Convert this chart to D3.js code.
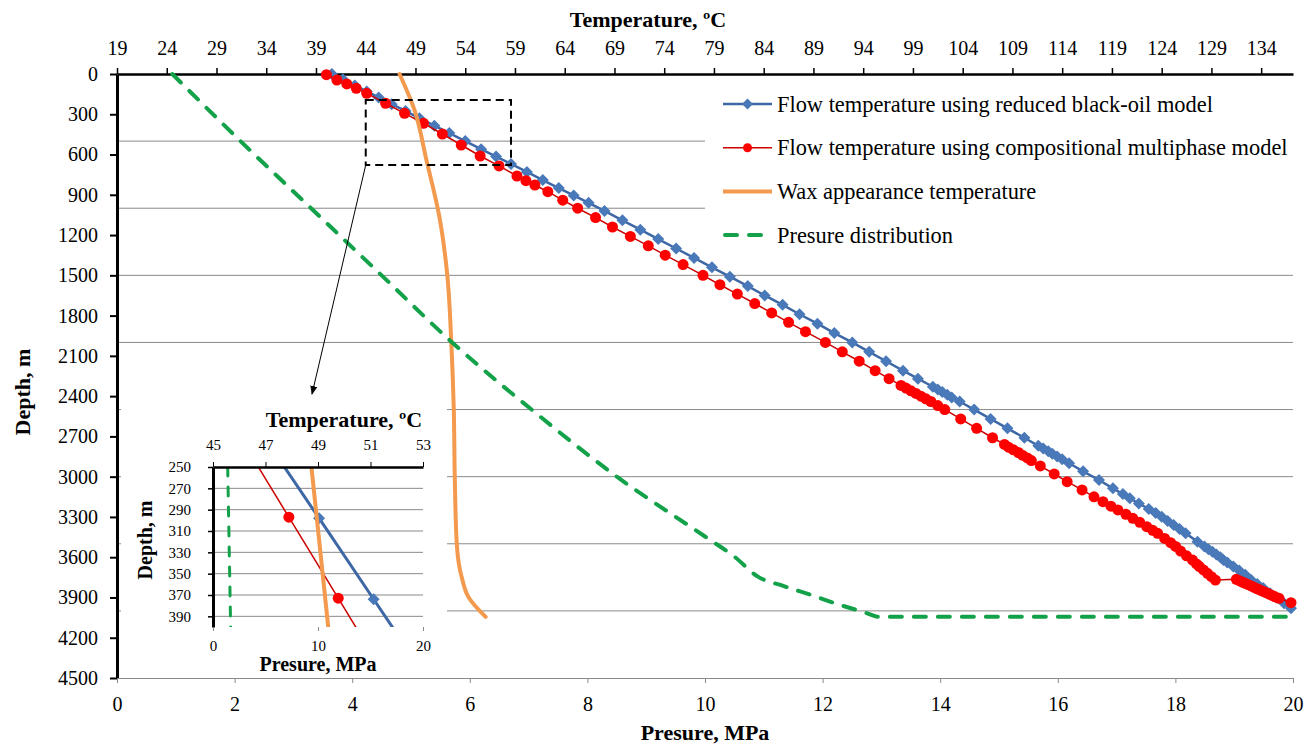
<!DOCTYPE html>
<html lang="en">
<head>
<meta charset="utf-8">
<style>
    body { margin: 0; background: #fff; }
    text { font-family: "Liberation Serif", "Times New Roman", serif; fill: #000; }
    .bold { font-weight: bold; }
</style>
<script src="https://d3js.org/d3.v7.min.js"></script>
</head>
<body>
<script>
// ---- data ----
var depthTicks = [0, 300, 600, 900, 1200, 1500, 1800, 2100, 2400, 2700, 3000, 3300, 3600, 3900, 4200, 4500];
var tempTicks = [19, 24, 29, 34, 39, 44, 49, 54, 59, 64, 69, 74, 79, 84, 89, 94, 99, 104, 109, 114, 119, 124, 129, 134];
var presTicks = [0, 2, 4, 6, 8, 10, 12, 14, 16, 18, 20];
var gridDepths = [500, 1000, 1500, 2000, 2500, 3000, 3500, 4000];

var blackOilDepth = [0,40,85,130,175,225,275,330,385,440,500,560,615,670,730,790,850,905,960,1020,1090,1160,1230,1300,1370,1440,1510,1580,1650,1720,1790,1860,1930,2000,2070,2140,2210,2270,2330,2350,2370,2390,2410,2440,2500,2570,2640,2710,2770,2790,2810,2830,2850,2870,2900,2960,3025,3087,3130,3161,3200,3240,3270,3298,3330,3360,3390,3422,3484,3520,3540,3559,3580,3600,3620,3640,3670,3700,3730,3770,3800,3830,3869,3900,3943,3981];
var blackOilTemp = [40.6,41.7,42.9,44.1,45.3,46.6,48.0,49.4,50.9,52.4,54.0,55.6,57.1,58.6,60.2,61.8,63.4,64.9,66.4,68.0,69.8,71.6,73.4,75.2,77.0,78.8,80.6,82.4,84.1,85.9,87.6,89.4,91.1,92.9,94.6,96.3,98.0,99.5,101.0,101.5,101.95,102.45,102.9,103.7,105.15,106.8,108.5,110.2,111.6,112.1,112.6,113.0,113.5,114.0,114.7,116.1,117.7,119.1,120.1,120.8,121.7,122.7,123.4,124.0,124.6,125.2,125.8,126.4,127.6,128.3,128.7,129.1,129.5,129.9,130.2,130.6,131.2,131.8,132.4,133.0,133.6,134.2,134.9,135.5,136.3,137.0];

var compDepth = [5,45,74,107,144,218,293,367,447,529,611,685,760,795,827,877,940,1000,1070,1140,1210,1280,1350,1420,1500,1570,1640,1710,1780,1850,1920,2000,2070,2140,2210,2270,2320,2340,2360,2380,2400,2420,2440,2470,2500,2570,2640,2710,2760,2780,2800,2820,2840,2860,2880,2920,2980,3037,3099,3150,3186,3220,3248,3280,3310,3340,3373,3400,3422,3460,3492,3520,3554,3590,3621,3650,3670,3695,3720,3745,3770,3765,3775,3785,3795,3805,3814,3825,3835,3845,3855,3864,3875,3885,3895,3906,3939];
var compTemp = [40.05,41.1,42.1,43.05,44.1,46.0,47.9,49.8,51.7,53.6,55.5,57.4,59.2,60.1,61.0,62.3,63.8,65.3,67.1,68.8,70.6,72.4,74.1,75.9,77.9,79.6,81.35,83.1,84.8,86.5,88.2,90.2,91.9,93.6,95.2,96.6,97.8,98.3,98.8,99.3,99.8,100.3,100.8,101.5,102.2,103.8,105.4,107.0,108.2,108.6,109.1,109.6,110.0,110.5,110.9,111.8,113.2,114.5,116.0,117.2,118.1,118.9,119.6,120.4,121.1,121.8,122.5,123.1,123.6,124.3,124.9,125.4,125.9,126.5,127.1,127.5,127.8,128.2,128.6,129.0,129.4,131.5,131.8,132.1,132.4,132.7,133.0,133.3,133.6,133.9,134.2,134.5,134.8,135.1,135.4,135.8,137.0];

var waxDepth = [0, 268, 641, 1063, 1500, 2000, 2500, 3000, 3500, 3750, 3900, 4045];
var waxTemp = [47.4, 48.9, 50.1, 51.4, 52.2, 52.6, 52.85, 52.95, 53.15, 53.65, 54.35, 56.05];

var presDepth = [0, 500, 1000, 1500, 2000, 2500, 3000, 3446, 3596, 3745, 3815, 3881, 3956, 4018, 4043, 4043];
var presValue = [0.94, 2.1, 3.3, 4.5, 5.7, 7.05, 8.5, 10.0, 10.5, 10.9, 11.34, 11.8, 12.3, 12.76, 12.93, 20];

// zoomed window (inset)
var insetDepthTicks = [250, 270, 290, 310, 330, 350, 370, 390];
var insetTempTicks = [45, 47, 49, 51, 53];
var insetPresTicks = [0, 10, 20];
var insetGrid = [270, 290, 310, 330, 350, 370, 390];
var insetBlackOilDepth = [222, 298, 374, 450];
var insetBlackOilTemp = [46.95, 49.04, 51.12, 53.2];
var insetCompDepth = [221, 297, 373, 449];
var insetCompTemp = [46.01, 47.89, 49.77, 51.65];
var insetWaxDepth = [200, 250, 400, 450];
var insetWaxTemp = [48.55, 48.75, 49.39, 49.6];
var insetPresDepth = [250, 400];
var insetPresValue = [1.4, 1.68];

// dashed zoom box on main chart (temperature, depth)
var zoomBoxTemp = [44.0, 58.6];
var zoomBoxDepth = [194, 678];

var legendLabels = ["Flow temperature using reduced black-oil model",
                    "Flow temperature using compositional multiphase model",
                    " Wax appearance temperature",
                    "Presure distribution"];

// ---- layout ----
var width = 1314, height = 747;
var plotLeft = 117, plotRight = 1293, plotTop = 74, plotBottom = 678;

var cBlueLine = "#3d67a5", cBlue = "#4a79b9";
var cRedLine = "#cc0000", cRed = "#ff0000";
var cOrange = "#f39a4e", cGreen = "#13a24a", cGrid = "#8a8a8a";

var svg = d3.select("body").append("svg")
            .attr("width", width)
            .attr("height", height);

var defs = svg.append("defs");
defs.append("marker")
    .attr("id", "arrow")
    .attr("viewBox", "0 0 10 10")
    .attr("refX", 9).attr("refY", 5)
    .attr("markerWidth", 9).attr("markerHeight", 9)
    .attr("orient", "auto")
    .append("path").attr("d", "M0,1L10,5L0,9Z").attr("fill", "#000");

var xP = d3.scaleLinear().domain([0, 20]).range([plotLeft, plotRight]);
var xT = d3.scaleLinear().domain([19, 137.2]).range([plotLeft, plotRight]);
var yD = d3.scaleLinear().domain([0, 4500]).range([plotTop, plotBottom]);

function styleTicks(g, size) {
    g.selectAll(".tick text")
     .style("font-family", "Liberation Serif")
     .style("font-size", size + "px");
}

// gridlines
svg.append("g").selectAll("line")
   .data(gridDepths).enter().append("line")
   .attr("x1", plotLeft).attr("x2", plotRight)
   .attr("y1", function(d) { return yD(d); })
   .attr("y2", function(d) { return yD(d); })
   .attr("stroke", cGrid).attr("stroke-width", 1);

// white backgrounds of legend and inset (they hide the gridlines)
svg.append("rect").attr("x", 705).attr("y", 84).attr("width", 588).attr("height", 172).attr("fill", "#fff");
svg.append("rect").attr("x", 121).attr("y", 398).attr("width", 326).attr("height", 277).attr("fill", "#fff");

// axes
var yAxis = d3.axisLeft(yD).tickValues(depthTicks).tickFormat(d3.format("d"))
              .tickSize(7).tickSizeOuter(0).tickPadding(12);
var gy = svg.append("g").attr("transform", "translate(" + plotLeft + ",0)").call(yAxis);
gy.select(".domain").attr("stroke-width", 3);
gy.selectAll(".tick line").attr("stroke-width", 2);
styleTicks(gy, 20);

var tAxis = d3.axisTop(xT).tickValues(tempTicks).tickFormat(d3.format("d"))
              .tickSize(6).tickSizeOuter(0).tickPadding(13);
var gt = svg.append("g").attr("transform", "translate(0," + plotTop + ")").call(tAxis);
gt.select(".domain").attr("stroke-width", 2.5);
gt.selectAll(".tick line").attr("stroke-width", 1.5);
styleTicks(gt, 20);

var pAxis = d3.axisBottom(xP).tickValues(presTicks).tickSize(5).tickSizeOuter(0).tickPadding(14);
var gp = svg.append("g").attr("transform", "translate(0," + plotBottom + ")").call(pAxis);
gp.select(".domain").attr("stroke", cGrid).attr("stroke-width", 1);
gp.selectAll(".tick line").attr("stroke", cGrid);
styleTicks(gp, 20);

// axis titles
svg.append("text").attr("class", "bold").attr("x", 648).attr("y", 27)
   .attr("text-anchor", "middle").attr("font-size", 22).text("Temperature, \u00baC");
svg.append("text").attr("class", "bold").attr("x", 705).attr("y", 740)
   .attr("text-anchor", "middle").attr("font-size", 22).text("Presure, MPa");
svg.append("text").attr("class", "bold")
   .attr("transform", "translate(30,392) rotate(-90)")
   .attr("text-anchor", "middle").attr("font-size", 22).text("Depth, m");

// series
function drawSeries(g, depth, val, xs, ys, opt) {
    var pts = d3.zip(depth, val);
    var line = d3.line()
                 .x(function(d) { return xs(d[1]); })
                 .y(function(d) { return ys(d[0]); });
    if (opt.curve) line.curve(opt.curve);
    g.append("path").datum(pts)
     .attr("d", line)
     .attr("fill", "none")
     .attr("stroke", opt.stroke)
     .attr("stroke-width", opt.width)
     .attr("stroke-dasharray", opt.dash || null)
     .attr("stroke-linecap", opt.cap || "butt");
    if (opt.marker == "diamond") {
        g.selectAll(".dm").data(pts).enter().append("path")
         .attr("class", "dm")
         .attr("d", "M0,-6L6,0L0,6L-6,0Z")
         .attr("transform", function(d) { return "translate(" + xs(d[1]) + "," + ys(d[0]) + ")"; })
         .attr("fill", opt.fill);
    }
    if (opt.marker == "circle") {
        g.selectAll(".dot").data(pts).enter().append("circle")
         .attr("class", "dot")
         .attr("cx", function(d) { return xs(d[1]); })
         .attr("cy", function(d) { return ys(d[0]); })
         .attr("r", 5.5)
         .attr("fill", opt.fill);
    }
}

var main = svg.append("g");
drawSeries(main.append("g"), blackOilDepth, blackOilTemp, xT, yD, {stroke: cBlueLine, width: 2.5, marker: "diamond", fill: cBlue});
drawSeries(main.append("g"), compDepth, compTemp, xT, yD, {stroke: cRedLine, width: 1.5, marker: "circle", fill: cRed});
drawSeries(main.append("g"), waxDepth, waxTemp, xT, yD, {stroke: cOrange, width: 4, curve: d3.curveMonotoneY, cap: "round"});
drawSeries(main.append("g"), presDepth, presValue, xP, yD, {stroke: cGreen, width: 4, dash: "12,12", cap: "round", curve: d3.curveMonotoneX});

// dashed zoom box and arrow
svg.append("rect")
   .attr("x", xT(zoomBoxTemp[0])).attr("y", yD(zoomBoxDepth[0]))
   .attr("width", xT(zoomBoxTemp[1]) - xT(zoomBoxTemp[0]))
   .attr("height", yD(zoomBoxDepth[1]) - yD(zoomBoxDepth[0]))
   .attr("fill", "none").attr("stroke", "#000").attr("stroke-width", 2)
   .attr("stroke-dasharray", "8,5");
svg.append("line")
   .attr("x1", xT(zoomBoxTemp[0])).attr("y1", yD(zoomBoxDepth[1]))
   .attr("x2", 312).attr("y2", 394)
   .attr("stroke", "#000").attr("stroke-width", 1)
   .attr("marker-end", "url(#arrow)");

// legend
var legend = svg.append("g").attr("transform", "translate(723,104)");
legendLabels.forEach(function(lab, i) {
    var g = legend.append("g").attr("transform", "translate(0," + (i * 43.7) + ")");
    if (i == 0) {
        g.append("line").attr("x1", 0).attr("x2", 49).attr("stroke", cBlueLine).attr("stroke-width", 2.5);
        g.append("path").attr("d", "M24.5,-5.5L30,0L24.5,5.5L19,0Z").attr("fill", cBlue);
    } else if (i == 1) {
        g.append("line").attr("x1", 0).attr("x2", 49).attr("stroke", cRedLine).attr("stroke-width", 1.5);
        g.append("circle").attr("cx", 24.5).attr("r", 4.5).attr("fill", cRed);
    } else if (i == 2) {
        g.append("line").attr("x1", 0).attr("x2", 49).attr("stroke", cOrange).attr("stroke-width", 4);
    } else {
        g.append("line").attr("x1", 2).attr("x2", 47).attr("stroke", cGreen).attr("stroke-width", 4)
         .attr("stroke-dasharray", "12,12").attr("stroke-linecap", "round");
    }
    g.append("text").attr("x", 54).attr("y", 7.5).attr("font-size", 22.4).text(lab);
});

// ---- inset ----
var il = 213, ir = 423, it = 467, ib = 627;
var ixP = d3.scaleLinear().domain([0, 20]).range([il, ir]);
var ixT = d3.scaleLinear().domain([45, 53]).range([il, ir]);
var iyD = d3.scaleLinear().domain([250, 400]).range([it, ib]);

defs.append("clipPath").attr("id", "insetClip")
    .append("rect").attr("x", il).attr("y", it).attr("width", ir - il).attr("height", ib - it);

var inset = svg.append("g");
inset.append("g").selectAll("line")
     .data(insetGrid).enter().append("line")
     .attr("x1", il).attr("x2", ir)
     .attr("y1", function(d) { return iyD(d); })
     .attr("y2", function(d) { return iyD(d); })
     .attr("stroke", cGrid).attr("stroke-width", 1);

var ip = inset.append("g").attr("clip-path", "url(#insetClip)");
drawSeries(ip.append("g"), insetBlackOilDepth, insetBlackOilTemp, ixT, iyD, {stroke: cBlueLine, width: 3, marker: "diamond", fill: cBlue});
drawSeries(ip.append("g"), insetCompDepth, insetCompTemp, ixT, iyD, {stroke: cRedLine, width: 1.5, marker: "circle", fill: cRed});
drawSeries(ip.append("g"), insetWaxDepth, insetWaxTemp, ixT, iyD, {stroke: cOrange, width: 4});
drawSeries(ip.append("g"), insetPresDepth, insetPresValue, ixP, iyD, {stroke: cGreen, width: 3, dash: "9,11", cap: "round"});

var iyAxis = d3.axisLeft(iyD).tickValues(insetDepthTicks).tickSize(5).tickSizeOuter(0).tickPadding(17);
var igy = inset.append("g").attr("transform", "translate(" + il + ",0)").call(iyAxis);
igy.select(".domain").attr("stroke-width", 3);
igy.selectAll(".tick line").attr("stroke-width", 1.5);
styleTicks(igy, 15);

var itAxis = d3.axisTop(ixT).tickValues(insetTempTicks).tickSize(5).tickSizeOuter(0).tickPadding(12);
var igt = inset.append("g").attr("transform", "translate(0," + it + ")").call(itAxis);
igt.select(".domain").attr("stroke-width", 2.5);
styleTicks(igt, 15);

var ipAxis = d3.axisBottom(ixP).tickValues(insetPresTicks).tickSize(4).tickSizeOuter(0).tickPadding(9);
var igp = inset.append("g").attr("transform", "translate(0," + ib + ")").call(ipAxis);
igp.select(".domain").attr("stroke", "none");
igp.selectAll(".tick line").attr("stroke", cGrid);
styleTicks(igp, 15);

inset.append("text").attr("class", "bold").attr("x", 344).attr("y", 427)
     .attr("text-anchor", "middle").attr("font-size", 22).text("Temperature, \u00baC");
inset.append("text").attr("class", "bold").attr("x", 318).attr("y", 671)
     .attr("text-anchor", "middle").attr("font-size", 20).text("Presure, MPa");
inset.append("text").attr("class", "bold")
     .attr("transform", "translate(152,540) rotate(-90)")
     .attr("text-anchor", "middle").attr("font-size", 20).text("Depth, m");
</script>
</body>
</html>
